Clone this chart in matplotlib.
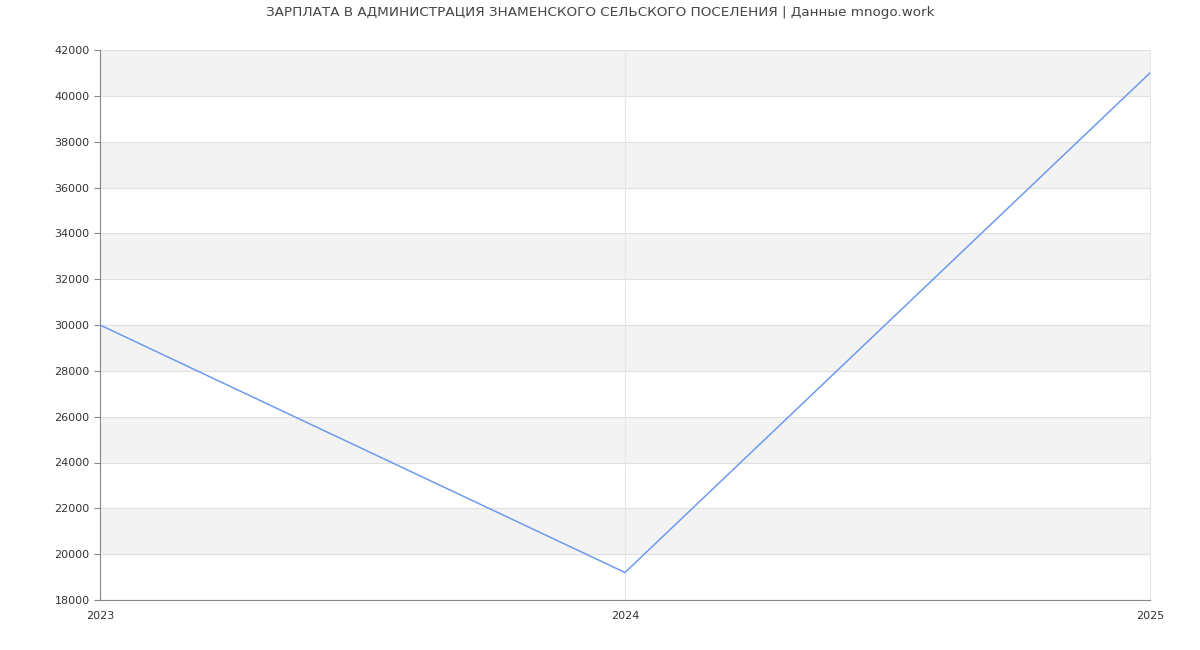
import matplotlib.pyplot as plt
import numpy as np

years = [2023, 2024, 2025]
salary = [30000, 19200, 41000]
y_ticks = list(range(18000, 42001, 2000))

fig = plt.figure(figsize=(12, 6.5), dpi=100)
ax = fig.add_axes([100 / 1200, 50 / 650, 1050 / 1200, 550 / 650])

# alternating bands
for lo in range(20000, 42000, 4000):
    ax.axhspan(lo, lo + 2000, color='#f3f3f3', zorder=0, lw=0)
for t in y_ticks:
    ax.axhline(t, color='#e0e0e0', lw=0.8, zorder=1)
for yr in years:
    ax.axvline(yr, color='#e6e6e6', lw=0.8, zorder=1, clip_on=False)

ax.plot(years, salary, color='#6d9af0', lw=1.1, zorder=3)

ax.set_xlim(2023, 2025)
ax.set_ylim(18000, 42000)
ax.set_xticks(years)
ax.set_yticks(y_ticks)
ax.tick_params(axis='both', labelsize=8, colors='#333333', length=4, width=0.8)
ax.tick_params(axis='x', length=0, pad=8)
ax.tick_params(axis='y', color='#888888')

for s in ['top', 'right']:
    ax.spines[s].set_visible(False)
ax.spines['left'].set_color('#888888')
ax.spines['bottom'].set_color('#888888')

fig.suptitle('ЗАРПЛАТА В АДМИНИСТРАЦИЯ ЗНАМЕНСКОГО СЕЛЬСКОГО ПОСЕЛЕНИЯ | Данные mnogo.work',
             fontsize=9.7, color='#444444', y=0.991)

fig.savefig('out.png')
